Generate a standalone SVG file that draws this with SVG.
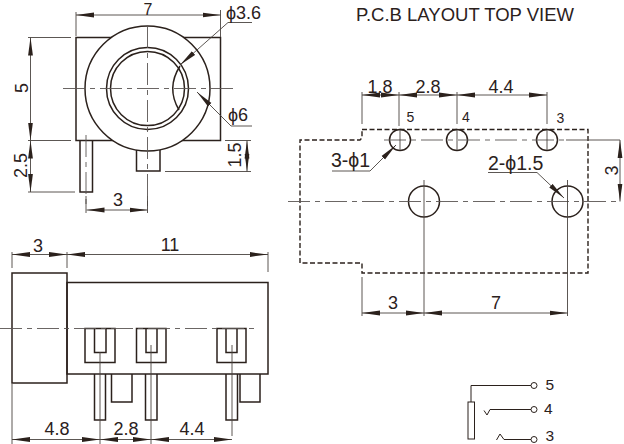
<svg xmlns="http://www.w3.org/2000/svg" width="624" height="444" viewBox="0 0 624 444">
<style>
.o{fill:none;stroke:#2b211c;stroke-width:1.5}
.d{fill:none;stroke:#4a4440;stroke-width:.9}
.c{fill:none;stroke:#5a5552;stroke-width:.9;stroke-dasharray:22 5 5 5}
.h{fill:none;stroke:#2b211c;stroke-width:1.4;stroke-dasharray:5 2.5}
text{font-family:"Liberation Sans",Arial,sans-serif;fill:#2b211c;font-size:18px}
.s{font-size:14px}
.m{font-size:15.5px}
.l{font-size:19.5px}
</style>
<defs>
<marker id="a" viewBox="0 0 18 6" refX="18" refY="3" markerWidth="18" markerHeight="6" markerUnits="userSpaceOnUse" orient="auto-start-reverse"><path d="M0 .6L18 3L0 5.400z" fill="#2b211c"/></marker>
</defs>
<rect width="624" height="444" fill="#fff"/>
<g id="front-view">
<rect class="o" x="76" y="37.500" width="144.500" height="103"/>
<circle cx="147.500" cy="88.500" r="62.500" fill="#fff" stroke="#2b211c" stroke-width="1.500"/>
<circle class="o" cx="147.500" cy="88.500" r="41"/>
<circle class="o" cx="147.500" cy="88.500" r="37"/>
<path class="o" d="M180 66Q166 88 179 110"/>
<path class="o" d="M80 141V192H92.500V141M136.500 150V171H160V150"/>
<path class="c" d="M63 88.500H236M147.500 26V211M86 135V208"/>
</g>
<g id="side-view">
<rect class="o" x="12" y="273" width="55" height="110"/>
<rect class="o" x="67" y="282.500" width="201" height="91.500"/>
<path class="o" d="M85 328.500V362.500H115V328.500ZM94.500 328.500V352.500H106V328.500M136.500 328.500V362.500H166V328.500ZM146 328.500V352.500H157V328.500M217 328.500V362.500H246V328.500ZM226 328.500V352.500H237V328.500"/>
<path class="o" d="M94.500 374V420H105.500V374M145.500 374V420H157V374M226 374V420H237.500V374M111.500 374V402H132V374M240 374V402H260V374"/>
<path class="c" d="M0 328.500H256"/>
</g>
<g id="layout">
<path class="h" d="M362 129.500H588V273H362V263H300V140H360L362 138Z"/>
<circle class="o" cx="400" cy="140" r="10.500"/>
<circle class="o" cx="457" cy="140" r="10.500"/>
<circle class="o" cx="547" cy="140" r="10.500"/>
<circle class="o" cx="424" cy="201.500" r="15.500"/>
<circle class="o" cx="567.500" cy="201.500" r="15.500"/>
<path class="c" d="M288 201.500H620M384 140H566"/>
<path class="d" d="M566 140H620M424 180V222M567.500 180V222M400 130V150M457 130V150M547 130V150"/>
</g>
<g id="schematic">
<rect fill="#fff" stroke="#2b211c" stroke-width="1" x="468" y="402" width="6.500" height="37"/>
<path fill="none" stroke="#2b211c" stroke-width="1" d="M471 402V385.500H531M484 410.500L487 415L490 409.500H531M496.500 440L500 434L504 439.500H531"/>
<circle cx="534" cy="385.500" r="3" fill="#fff" stroke="#2b211c"/>
<circle cx="534" cy="409.500" r="3" fill="#fff" stroke="#2b211c"/>
<circle cx="534" cy="439.500" r="3" fill="#fff" stroke="#2b211c"/>
</g>
<g id="connectors">
<path class="d" d="M76 12V36M220.500 10V37M28 37.500H71M28 140.500H71M28 192H75M86 196V213M147.500 196V213M225 140.500H251M165 171.500H251" />
<path class="d" marker-start="url(#a)" marker-end="url(#a)" d="M76 15H220.500"/>
<path class="d" marker-start="url(#a)" marker-end="url(#a)" d="M30.500 37.500V140.500"/>
<path class="d" marker-start="url(#a)" marker-end="url(#a)" d="M30.500 140.500V192"/>
<path class="d" marker-start="url(#a)" marker-end="url(#a)" d="M86.500 210H147.500"/>
<path class="d" marker-start="url(#a)" marker-end="url(#a)" d="M247 140.500V171.500"/>
<path class="d" marker-end="url(#a)" d="M252 22.500H228L180 65"/>
<path class="d" marker-end="url(#a)" d="M252 126H231L197 92"/>
<path class="d" d="M12 252V268M67 252V268M268 252V272M12 384V444M100 352V444M151 345V444M232 345V436"/>
<path class="d" marker-start="url(#a)" marker-end="url(#a)" d="M12 254.500H67"/>
<path class="d" marker-start="url(#a)" marker-end="url(#a)" d="M67 254.500H268"/>
<path class="d" marker-start="url(#a)" marker-end="url(#a)" d="M12 439.500H100"/>
<path class="d" marker-start="url(#a)" marker-end="url(#a)" d="M100 439.500H151"/>
<path class="d" marker-start="url(#a)" marker-end="url(#a)" d="M151 439.500H232"/>
<path class="d" d="M362 92V124M399 92V126M457 92V124M547 92V124M362 277V316M424 222V316M567.500 222V316"/>
<path class="d" marker-start="url(#a)" marker-end="url(#a)" d="M362 95H399"/>
<path class="d" marker-start="url(#a)" marker-end="url(#a)" d="M399 95H457"/>
<path class="d" marker-start="url(#a)" marker-end="url(#a)" d="M457 95H547"/>
<path class="d" marker-start="url(#a)" marker-end="url(#a)" d="M362 313H424"/>
<path class="d" marker-start="url(#a)" marker-end="url(#a)" d="M424 313H567.500"/>
<path class="d" marker-start="url(#a)" marker-end="url(#a)" d="M620 140V201.500"/>
<path class="d" marker-end="url(#a)" d="M332 171H370L396 145"/>
<path class="d" marker-end="url(#a)" d="M488 172.500H537L564 198"/>
</g>
<g id="labels">
<text x="148" y="14.500" text-anchor="middle" style="font-size:16px">7</text>
<text x="226" y="19">ϕ3.6</text>
<text x="228" y="120.500">ϕ6</text>
<text transform="translate(28 88) rotate(-90)" text-anchor="middle">5</text>
<text transform="translate(27 165.500) rotate(-90)" text-anchor="middle">2.5</text>
<text transform="translate(241 155) rotate(-90)" text-anchor="middle">1.5</text>
<text x="118" y="206" text-anchor="middle">3</text>
<text x="38" y="252" text-anchor="middle">3</text>
<text x="170" y="251" text-anchor="middle">11</text>
<text x="57" y="435" text-anchor="middle">4.8</text>
<text x="126" y="435" text-anchor="middle">2.8</text>
<text x="192" y="435" text-anchor="middle">4.4</text>
<text x="356" y="21" style="font-size:18.500px">P.C.B LAYOUT TOP VIEW</text>
<text x="380" y="92.500" text-anchor="middle">1.8</text>
<text x="428" y="92.500" text-anchor="middle">2.8</text>
<text x="501" y="92.500" text-anchor="middle">4.4</text>
<text class="s" x="410.500" y="121.500" text-anchor="middle">5</text>
<text class="s" x="466" y="121.500" text-anchor="middle">4</text>
<text class="s" x="560.500" y="123" text-anchor="middle">3</text>
<text class="l" x="331" y="167">3-ϕ1</text>
<text class="l" x="488" y="169.500">2-ϕ1.5</text>
<text transform="translate(618 170.500) rotate(-90)" text-anchor="middle">3</text>
<text x="393" y="309" text-anchor="middle">3</text>
<text x="496" y="309" text-anchor="middle">7</text>
<text class="m" x="545.500" y="390">5</text>
<text class="m" x="544" y="413.500">4</text>
<text class="m" x="545.500" y="441">3</text>
</g>
</svg>
